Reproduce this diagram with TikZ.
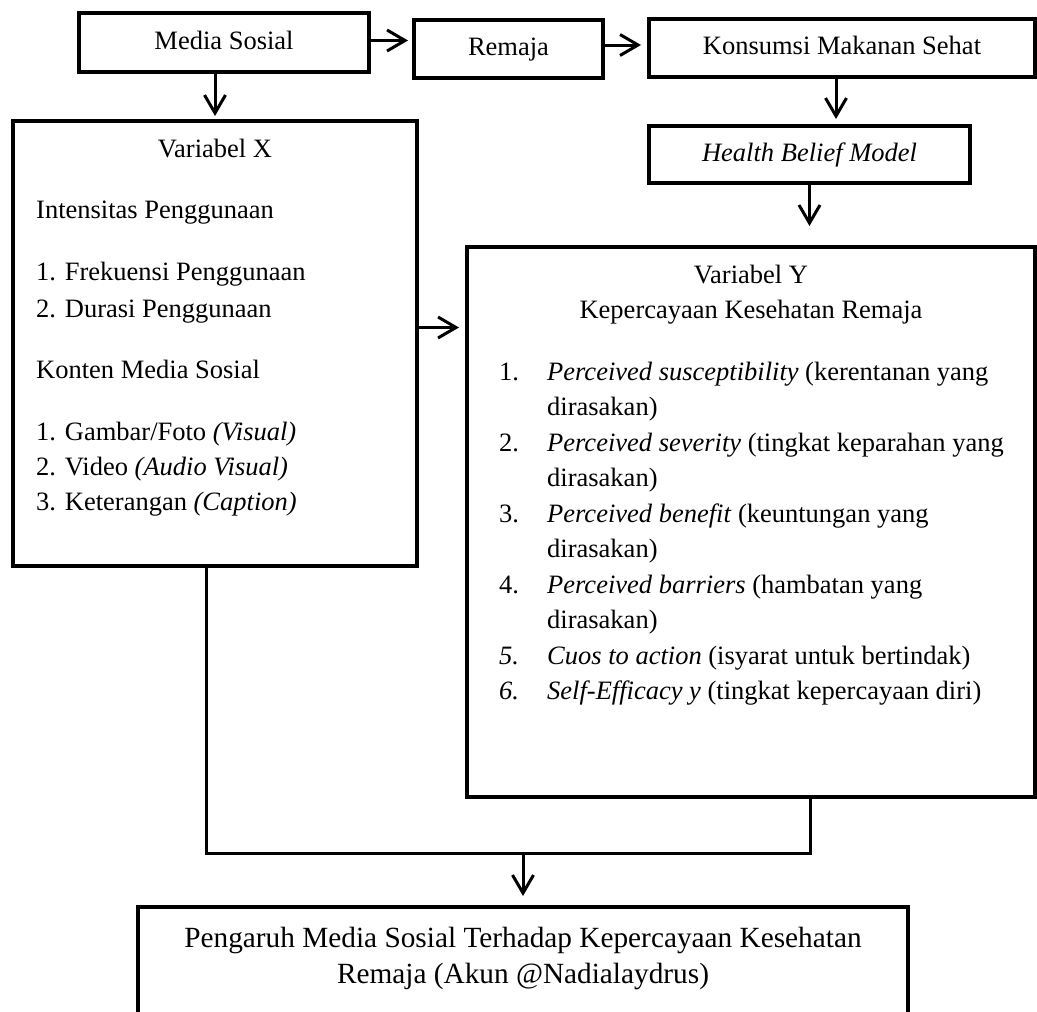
\documentclass[tikz,border=0pt]{standalone}
\usepackage{fontspec}
\setmainfont{Liberation Serif}
\usetikzlibrary{arrows.meta}

\tikzset{
  flowbox/.style={draw,line width=3.2pt,inner sep=0pt,outer sep=0pt,
                  text height=19pt,text depth=6pt},
  garis/.style={line width=3pt},
  panah/.style={garis,-{Straight Barb[length=18pt,width=21pt]}},
  txt/.style={anchor=base west,inner sep=0pt},
  judul/.style={anchor=base,inner sep=0pt}
}

\begin{document}
\begin{tikzpicture}[x=1pt,y=-1pt,font=\fontsize{26.5}{35.5}\selectfont]
  \useasboundingbox (0,0) rectangle (1037,1012);
  \clip (0,0) rectangle (1037,1012);
  % top row
  \node[flowbox,minimum width=290pt,minimum height=59pt] (media) at (224,42.5) {Media Sosial};
  \node[flowbox,minimum width=189pt,minimum height=58pt] (remaja) at (508.5,49) {Remaja};
  \node[flowbox,minimum width=386pt,minimum height=58pt] (konsumsi) at (842,48) {Konsumsi Makanan Sehat};
  \node[flowbox,minimum width=321pt,minimum height=57pt] (hbm) at (809.5,154.5) {\textit{Health Belief Model}};
  % variable boxes
  \node[flowbox,minimum width=404pt,minimum height=445pt] (varx) at (215,343.5) {};
  \node[flowbox,minimum width=568pt,minimum height=550pt] (vary) at (751,522) {};
  \node[flowbox,minimum width=770pt,minimum height=160pt] (hasil) at (523,987) {};
  % text of variabel X
  \node[judul] (xjudul) at (varx.center |- 0,157) {Variabel X};
  \foreach \yy/\isi [count=\i] in {218/{Intensitas Penggunaan},
      280/{1. Frekuensi Penggunaan}, 317/{2. Durasi Penggunaan},
      378/{Konten Media Sosial}, 440/{1. Gambar/Foto \textit{(Visual)}},
      475/{2. Video \textit{(Audio Visual)}}, 510/{3. Keterangan \textit{(Caption)}}}
    \node[txt] (x\i) at (36,\yy) {\isi};
  % text of variabel Y
  \node[judul] (yjudul) at (vary.center |- 0,283) {Variabel Y};
  \node[judul] (ysub) at (vary.center |- 0,318) {Kepercayaan Kesehatan Remaja};
  \foreach \yy/\nomor in {380/1., 451/2., 522/3., 593/4., 664/\textit{5.}, 699.5/\textit{6.}}
    \node[txt] at (499,\yy) {\nomor};
  \foreach \yy/\isi [count=\i] in {380/{\textit{Perceived susceptibility} (kerentanan yang},
      415.5/{dirasakan)}, 451/{\textit{Perceived severity} (tingkat keparahan yang},
      486.5/{dirasakan)}, 522/{\textit{Perceived benefit} (keuntungan yang},
      557.5/{dirasakan)}, 593/{\textit{Perceived barriers} (hambatan yang},
      628.5/{dirasakan)}, 664/{\textit{Cuos to action} (isyarat untuk bertindak)},
      699.5/{\textit{Self-Efficacy y} (tingkat kepercayaan diri)}}
    \node[txt] (y\i) at (547,\yy) {\isi};
  % text of result
  \begin{scope}[font=\fontsize{29.3}{36}\selectfont]
    \node[judul] (h1) at (hasil.center |- 0,947) {Pengaruh Media Sosial Terhadap Kepercayaan Kesehatan};
    \node[judul] (h2) at (hasil.center |- 0,983) {Remaja (Akun @Nadialaydrus)};
  \end{scope}
  % arrows
  \draw[panah,shorten >=6pt] ([yshift=2pt]media.east) -- ([yshift=2pt]media.east -| remaja.west);
  \draw[panah,shorten >=8pt] ([yshift=4pt]remaja.east) -- ([yshift=4pt]remaja.east -| konsumsi.west);
  \draw[panah,shorten >=5pt] (varx.north |- media.south) -- (varx.north);
  \draw[panah,shorten >=7pt] ([xshift=-6pt]konsumsi.south) -- ([xshift=-6pt]konsumsi.south |- hbm.north);
  \draw[panah,shorten >=21pt] (hbm.south) -- (hbm.south |- vary.north);
  \draw[panah,shorten >=8pt] ([yshift=16pt]varx.east) -- ([yshift=16pt]varx.east -| vary.west);
  % joining line
  \coordinate (gab) at ([xshift=-9pt]varx.south |- 0,853);
  \draw[garis] ([xshift=-9pt]varx.south) -- (gab) -| ([xshift=59pt]vary.south);
  \draw[panah,shorten >=11pt] (gab -| hasil.north) -- (hasil.north);
\end{tikzpicture}
\end{document}
